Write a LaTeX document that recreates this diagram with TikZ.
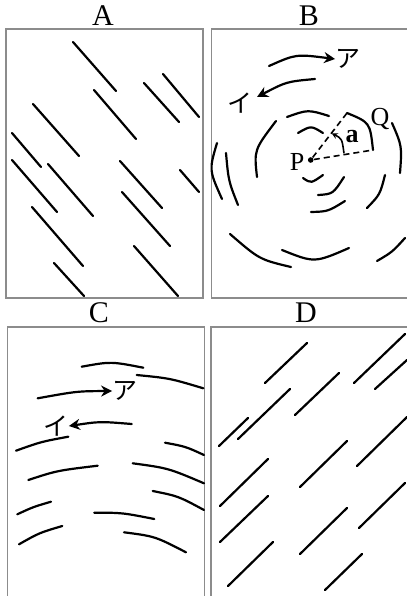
\documentclass[tikz,border=0pt]{standalone}
\usepackage{fontspec}
\setmainfont{Liberation Serif}
\newfontfamily\jpfont{Noto Sans CJK JP}
\usetikzlibrary{arrows.meta}

\definecolor{framegray}{gray}{0.55}

\begin{document}
\begin{tikzpicture}[
    x=0.5pt, y=-0.5pt,
    frame/.style={draw=framegray, line width=0.6pt},
    stroke/.style={line width=1.1pt, line cap=round},
    flow/.style={stroke, -{Stealth[length=5.5pt, width=5.5pt]}},
    title/.style={font=\fontsize{15}{15}\selectfont, inner sep=0pt},
    kana/.style={font=\jpfont\fontsize{12.5}{12.5}\selectfont, inner sep=0pt},
    letter/.style={font=\fontsize{13}{13}\selectfont, inner sep=0pt},
    dot/.style={circle, fill, inner sep=0pt, minimum size=2.8pt}
]
\useasboundingbox (0,0) rectangle (407,596);

% Cadres
\draw[frame] (6,29) rectangle (203,298);
\draw[frame] (211.5,29) rectangle (410,298);
\draw[frame] (7.5,600) |- (204.5,327) -- (204.5,600);
\draw[frame] (211,600) |- (410,327);

% Titres
\node[title] (titleA) at (103,16) {A};
\node[title] (titleB) at (309,16) {B};
\node[title] (titleC) at (99,313) {C};
\node[title] (titleD) at (306,313) {D};

% Panneau A
\draw[stroke] (73,42) -- (116,91)  (94,90) -- (136,139)  (144,83) -- (179,122)
    (163,74) -- (199,117)  (33,104) -- (79,156)  (12,133) -- (41,167)
    (12,160) -- (57,212)  (48,164) -- (93,216)  (120,161) -- (162,208)
    (180,170) -- (199,192)  (122,192) -- (170,246)  (32,207) -- (83,266)
    (54,263) -- (84,296)  (134,246) -- (178,296);

% Panneau B
\node[dot] (P) at (310.7,160) {};
\node[letter] (labelP) at (297,162) {P};
\node[letter] (labelQ) at (380,119) {Q};
\node[letter, font=\bfseries\fontsize{13}{13}\selectfont] (labelA) at (352,137) {a};
\coordinate (sideQ) at (373,150);
\coordinate (sideT) at (347,113);
\draw[line width=0.8pt, dash pattern=on 3pt off 2pt] (P) -- (sideQ) (P) -- (sideT);
\draw[stroke] (sideT) .. controls (370,122.5) .. (sideQ);
\draw[line width=0.8pt, {Stealth[length=3pt, width=3pt]}-] (331.7,133.3) .. controls (342,138.7) .. (344,153.3);

\draw[stroke] (298,133) .. controls (311,125.5) .. (323,133);
\draw[stroke] (303,178) .. controls (311,183.5) .. (323,175);
\draw[stroke] (287,117) .. controls (308,109.5) .. (329,116);
\draw[stroke] (276,121) .. controls (254,150) .. (257,177);
\draw[stroke] (318,195) .. controls (333,194) .. (344,177);
\draw[stroke] (311,212) .. controls (328,211.5) .. (345,201);
\draw[stroke] (392,123) .. controls (402,146) .. (400,173);
\draw[stroke] (385,175) .. controls (380,194.5) .. (367,208);
\draw[stroke] (217,143) .. controls (209,170) .. (222,199);
\draw[stroke] (226,153) .. controls (228.5,181) .. (238,205);
\draw[stroke] (230,234) .. controls (259.5,259.5) .. (291,267);
\draw[stroke] (282,250) .. controls (314.5,263) .. (349,248);
\draw[stroke] (377,261) .. controls (392.4,251.9) .. (405,238);

\node[kana] (kanaBa) at (348,59) {ア};
\node[kana] (kanaBi) at (240,103) {イ};
\draw[flow] (269,66) .. controls (296,54) .. (kanaBa.west);
\draw[flow] (315,79) .. controls (286.6,81.6) .. (257,97);

% Panneau C
\node[kana] (kanaCa) at (125,391) {ア};
\node[kana] (kanaCi) at (56,426) {イ};
\draw[flow] (37.7,398.3) .. controls (77,391.2) .. (kanaCa.west);
\draw[flow] (131.7,424) .. controls (100,421.4) .. (kanaCi.east);

\draw[stroke] (81.7,366.7) .. controls (110.9,361.4) .. (143.3,367.7);
\draw[stroke] (136.7,375) .. controls (170,378.3) .. (203.3,388.3);
\draw[stroke] (16,450.7) .. controls (41.2,441.7) .. (68.3,436.7);
\draw[stroke] (28.3,480) .. controls (57,470.6) .. (97.7,465.7);
\draw[stroke] (17.3,514.3) .. controls (33,507) .. (51,501.7);
\draw[stroke] (19,544.3) .. controls (39.3,532.8) .. (62.3,526);
\draw[stroke] (94.3,512.7) .. controls (122.3,512.7) .. (154.3,519);
\draw[stroke] (124,532.3) .. controls (155,536.3) .. (186,552.3);
\draw[stroke] (165,442.7) .. controls (185.5,446.5) .. (204,455);
\draw[stroke] (132.7,463.3) .. controls (168.2,468.1) .. (204,483.3);
\draw[stroke] (152.7,491) .. controls (178.2,496.1) .. (204,510);

% Panneau D
\draw[stroke] (265,383) -- (307,343)  (354,383) -- (405,334)  (375,389) -- (407,360)
    (295,415) -- (339,373)  (219,446) -- (248,418)  (238,439) -- (290,389)
    (357,466) -- (407,417)  (300,487) -- (347,441)  (220,506) -- (268,459)
    (220,542) -- (268,496)  (359,528) -- (405,483)  (300,554) -- (347,508)
    (228,586) -- (273,542)  (325,590) -- (362,554);

\end{tikzpicture}
\end{document}
